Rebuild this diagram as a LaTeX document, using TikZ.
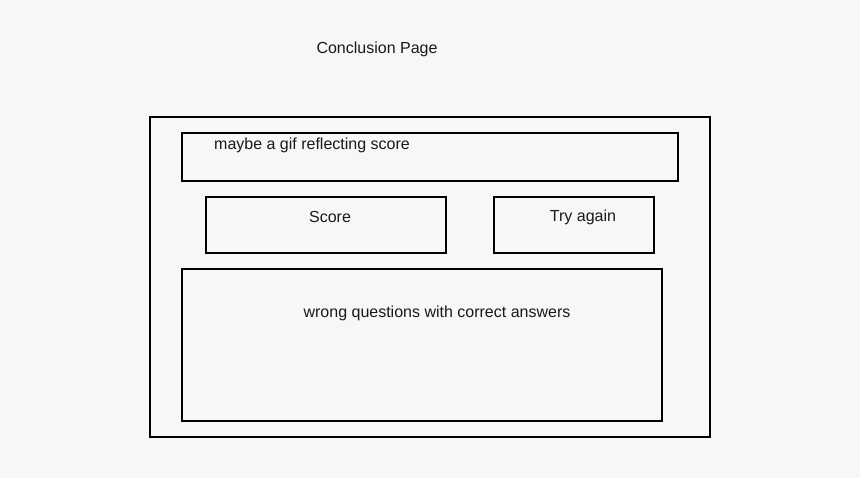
\documentclass[tikz,border=0pt]{standalone}
\usepackage{fontspec}
\setmainfont{Liberation Sans}
\usetikzlibrary{calc}
\definecolor{pagebg}{HTML}{F7F7F7}
\tikzset{
    frame/.style={draw, line width=1.1pt, inner sep=0pt, outer sep=0pt, anchor=north west},
    caption/.style={font=\fontsize{16}{18}\selectfont, inner sep=0pt, text=black!90}
}
\begin{document}
\begin{tikzpicture}[x=1pt, y=-1pt]
            \fill[pagebg] (0,0) rectangle (860,478);
            \useasboundingbox (0,0) rectangle (860,478);
            \node[caption] (title) at (377,49) {Conclusion Page};
            \node[frame, minimum width=560pt, minimum height=320pt] at (150,117) (screen) {};
            \node[frame, minimum width=496pt, minimum height=48pt] at (182,133) (gif) {};
            \node[frame, minimum width=240pt, minimum height=56pt] at (206,197) (score) {};
            \node[frame, minimum width=160pt, minimum height=56pt] at (494,197) (retry) {};
            \node[frame, minimum width=480pt, minimum height=152pt] at (182,269) (wrong) {};
            \node[caption] (gift) at (312,145) {maybe a gif reflecting score};
            \node[caption] (scoret) at (330,217) {Score};
            \node[caption] (retryt) at (583,217) {Try again};
            \node[caption] (wrongt) at (437,313) {wrong questions with correct answers};
        \end{tikzpicture}
\end{document}
